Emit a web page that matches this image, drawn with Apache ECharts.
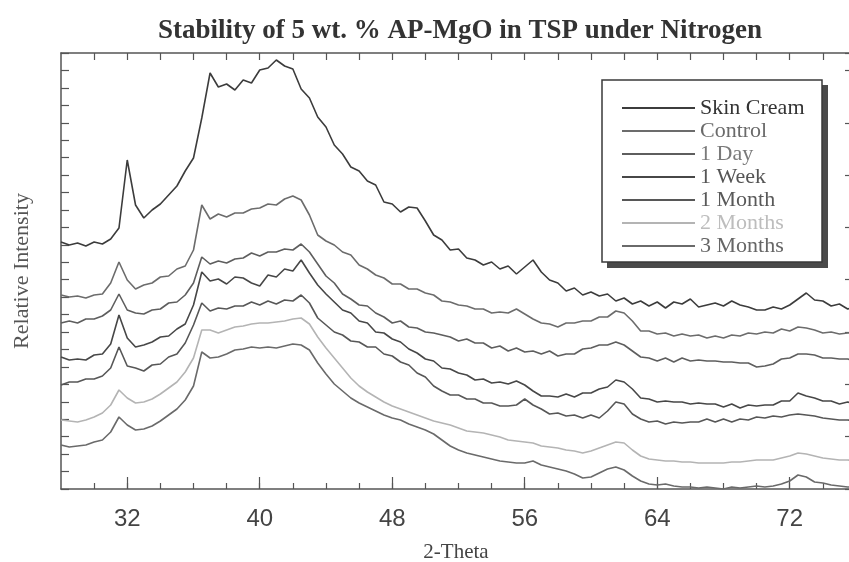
<!DOCTYPE html>
<html lang="en">
<head>
    <meta charset="UTF-8">
    <title>Stability of 5 wt. % AP-MgO in TSP under Nitrogen</title>
    <script src="https://cdn.jsdelivr.net/npm/echarts@6/dist/echarts.min.js"></script>
    <style>
        html, body { margin: 0; padding: 0; background: #fff; }
        #chart { width: 849px; height: 562px; }
    </style>
</head>
<body>
<div id="chart"></div>
<script>
    // 2-theta sampling positions (deg)
    var twoTheta = [28,28.5,29,29.5,30,30.5,31,31.5,32,32.5,33,33.5,34,34.5,35,35.5,36,36.5,37,37.5,
        38,38.5,39,39.5,40,40.5,41,41.5,42,42.5,43,43.5,44,44.5,45,45.5,46,46.5,47,47.5,
        48,48.5,49,49.5,50,50.5,51,51.5,52,52.5,53,53.5,54,54.5,55,55.5,56,56.5,57,57.5,
        58,58.5,59,59.5,60,60.5,61,61.5,62,62.5,63,63.5,64,64.5,65,65.5,66,66.5,67,67.5,
        68,68.5,69,69.5,70,70.5,71,71.5,72,72.5,73,73.5,74,74.5,75,75.5,76];

    // relative intensity (offset traces, arbitrary units)
    var skinCream = [247,244,246,243,247,245,250,261,329,284,271,279,285,294,303,318,331,371,416,402,
        405,399,409,406,419,421,429,423,420,400,391,372,362,344,335,322,318,308,304,287,
        285,277,282,281,268,254,249,239,240,231,229,224,227,220,223,215,222,229,217,209,
        206,198,201,194,197,193,195,188,191,185,188,183,187,181,187,185,190,182,184,186,
        183,188,184,182,179,179,182,180,184,190,196,189,188,183,185,180,182];
    var control = [194,192,193,191,194,195,206,227,209,200,204,206,212,213,220,223,239,284,270,275,
        272,276,276,280,281,285,284,290,293,289,274,254,248,244,237,234,224,220,214,211,
        205,205,200,200,196,194,188,187,184,183,180,180,176,177,176,180,175,170,166,165,
        162,166,166,168,168,172,172,178,176,168,158,158,155,156,153,155,153,154,151,153,
        151,154,153,156,155,157,156,160,158,162,161,159,156,157,155,156,156];
    var oneDay = [166,168,166,170,170,173,179,195,179,176,175,179,180,186,187,194,206,232,225,228,
        226,230,231,236,233,237,237,240,239,245,237,225,213,206,195,190,184,183,176,172,
        166,168,162,161,157,156,154,152,148,150,146,146,141,143,138,141,137,138,135,138,
        133,135,135,140,141,144,144,147,144,138,132,131,128,131,127,131,128,129,128,128,
        127,127,126,126,122,123,125,130,131,135,135,134,131,131,130,130,128];
    var oneWeek = [132,129,130,129,134,135,145,174,151,142,144,147,152,153,160,165,184,217,208,210,
        205,212,211,206,203,214,212,220,218,229,216,204,195,187,179,176,168,166,157,156,
        150,147,140,136,130,128,121,120,116,114,109,110,106,107,105,108,104,98,93,93,
        92,95,92,96,96,100,102,109,107,100,91,90,87,88,87,87,85,86,85,85,
        82,85,81,84,83,84,84,88,88,96,93,91,88,88,85,87,84];
    var oneMonth = [104,107,107,110,110,113,121,142,123,121,118,124,125,132,135,146,164,186,178,181,
        180,183,183,187,184,188,185,189,188,194,186,171,164,157,154,148,147,142,142,135,
        133,127,124,116,112,103,98,94,94,90,90,86,86,83,83,84,90,84,80,75,
        76,73,74,71,74,71,78,87,85,75,70,67,68,65,67,66,67,67,70,67,
        70,67,70,69,72,71,73,72,74,75,74,73,71,70,69,69,68];
    var twoMonths = [69,68,67,69,72,76,84,99,91,86,87,90,95,101,107,117,131,159,159,156,
        159,162,163,165,166,166,167,168,170,171,165,152,141,131,121,111,103,97,92,87,
        83,80,77,74,71,68,66,64,61,58,57,56,54,52,49,48,47,46,43,42,
        41,39,38,36,38,41,44,47,46,39,33,30,29,28,28,27,27,26,26,26,
        26,27,27,28,29,29,29,31,33,36,35,33,31,30,29,29,28];
    var threeMonths = [44,42,43,44,47,49,57,72,64,59,60,63,68,74,80,89,103,137,131,132,
        135,139,140,142,141,142,141,143,145,144,139,126,115,105,98,91,86,82,78,74,
        71,69,65,62,59,55,49,43,39,36,34,32,30,28,27,26,26,28,24,22,
        20,18,15,11,12,16,20,22,19,13,8,5,4,5,3,2,2,1,2,1,
        0,2,1,2,3,2,3,5,8,14,12,7,6,4,3,2,2];

    var seriesNames = ['Skin Cream', 'Control', '1 Day', '1 Week', '1 Month', '2 Months', '3 Months'];
    var seriesValues = [skinCream, control, oneDay, oneWeek, oneMonth, twoMonths, threeMonths];
    var lineColors = ['#3c3c3c', '#6c6c6c', '#5e5e5e', '#474747', '#575757', '#b4b4b4', '#6a6a6a'];
    var textColors = ['#333333', '#6a6a6a', '#7a7a7a', '#555555', '#595959', '#bdbdbd', '#666666'];

    var labelTicks = [32, 40, 48, 56, 64, 72];
    var minorTicks = [30, 32, 34, 36, 38, 40, 42, 44, 46, 48, 50, 52, 54, 56, 58, 60, 62, 64, 66, 68, 70, 72, 74];

    var axisColor = '#555';

    function pairs(values) {
        return values.map(function (v, i) { return [twoTheta[i], v]; });
    }

    var series = seriesNames.map(function (name, i) {
        return {
            name: name,
            type: 'line',
            xAxisIndex: 0,
            yAxisIndex: 0,
            symbol: 'none',
            animation: false,
            lineStyle: { color: lineColors[i], width: 1.6 },
            itemStyle: { color: lineColors[i] },
            data: pairs(seriesValues[i])
        };
    });

    var option = {
        backgroundColor: '#fff',
        animation: false,
        title: {
            text: 'Stability of 5 wt. % AP-MgO in TSP under Nitrogen',
            left: 455,
            top: 13,
            textAlign: 'center',
            textStyle: {
                fontFamily: 'Liberation Serif',
                fontWeight: 'bold',
                fontSize: 27,
                color: '#333'
            }
        },
        grid: { left: 61, top: 53, right: -2, bottom: 73, outerBoundsMode: 'none' },
        legend: {
            orient: 'vertical',
            left: 617,
            top: 92,
            icon: 'rect',
            itemWidth: 73,
            itemHeight: 2,
            itemGap: 1,
            selectedMode: false,
            z: 10,
            textStyle: { fontFamily: 'Liberation Serif', fontSize: 22, lineHeight: 22 },
            data: seriesNames.map(function (name, i) {
                return { name: name, itemStyle: { color: lineColors[i] }, textStyle: { color: textColors[i] } };
            })
        },
        graphic: [
            { type: 'rect', z: 8, shape: { x: 607, y: 85, width: 221, height: 183 }, style: { fill: '#4a4a4a' } },
            { type: 'rect', z: 9, shape: { x: 602, y: 80, width: 220, height: 182 }, style: { fill: '#fff', stroke: '#3a3a3a', lineWidth: 1.5 } }
        ],
        xAxis: [{
            type: 'value',
            min: 28,
            max: 75.7,
            position: 'bottom',
            name: '2-Theta',
            nameLocation: 'middle',
            nameGap: 53,
            nameTextStyle: { fontFamily: 'Liberation Serif', fontSize: 21, color: '#444' },
            axisLine: { show: true, onZero: false, lineStyle: { color: axisColor, width: 1.5 } },
            axisTick: { show: true, inside: true, length: 6, customValues: minorTicks, lineStyle: { color: axisColor, width: 1.2 } },
            axisLabel: { customValues: labelTicks, margin: 18, fontFamily: 'Liberation Sans', fontSize: 24, color: '#444' },
            splitLine: { show: false }
        }, {
            type: 'value',
            min: 28,
            max: 75.7,
            position: 'bottom',
            axisLine: { show: false },
            axisTick: { show: true, inside: true, length: 12, customValues: labelTicks, lineStyle: { color: axisColor, width: 1.2 } },
            axisLabel: { show: false },
            splitLine: { show: false }
        }, {
            type: 'value',
            min: 28,
            max: 75.7,
            position: 'top',
            axisLine: { show: true, onZero: false, lineStyle: { color: axisColor, width: 1.5 } },
            axisTick: { show: true, inside: true, length: 7, customValues: minorTicks, lineStyle: { color: axisColor, width: 1.2 } },
            axisLabel: { show: false },
            splitLine: { show: false }
        }],
        yAxis: [{
            type: 'value',
            min: 0,
            max: 436,
            interval: 17.44,
            position: 'left',
            name: 'Relative Intensity',
            nameLocation: 'middle',
            nameRotate: 90,
            nameGap: 28,
            nameTextStyle: { fontFamily: 'Liberation Serif', fontSize: 22, color: '#555' },
            axisLine: { show: true, onZero: false, lineStyle: { color: axisColor, width: 1.5 } },
            axisTick: { show: true, inside: true, length: 8, lineStyle: { color: axisColor, width: 1.2 } },
            axisLabel: { show: false },
            splitLine: { show: false }
        }, {
            type: 'value',
            min: 0,
            max: 436,
            interval: 52.32,
            position: 'right',
            axisLine: { show: true, onZero: false, lineStyle: { color: axisColor, width: 1.5 } },
            axisTick: { show: true, inside: true, length: 6, lineStyle: { color: axisColor, width: 1.2 } },
            axisLabel: { show: false },
            splitLine: { show: false }
        }],
        series: series
    };

    var myChart = echarts.init(document.getElementById('chart'));
    myChart.setOption(option);
</script>
</body>
</html>
